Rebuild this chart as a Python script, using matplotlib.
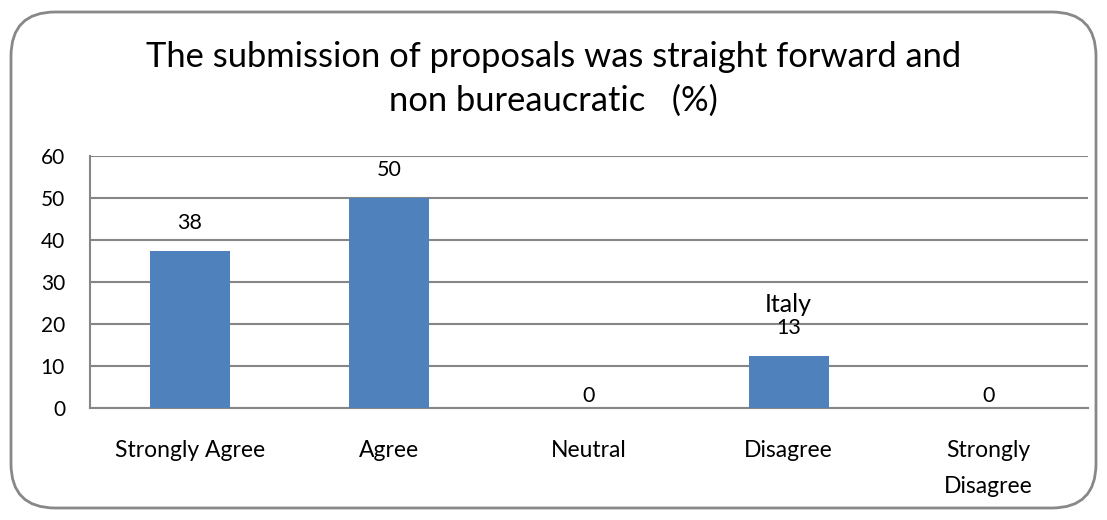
import matplotlib
matplotlib.use("Agg")
import matplotlib.pyplot as plt
from matplotlib.patches import FancyBboxPatch

categories = ["Strongly Agree", "Agree", "Neutral", "Disagree", "Strongly\nDisagree"]
values = [37.5, 50, 0, 12.5, 0]
value_labels = ["38", "50", "0", "13", "0"]
series_name = "Italy"
series_label_on = "Disagree"
yticks = [0, 10, 20, 30, 40, 50, 60]
title = "The submission of proposals was straight forward and\nnon bureaucratic   (%)"

BAR_COLOR = "#4F81BD"
GRID_COLOR = "#868686"
FONT = ["Lato", "DejaVu Sans"]

fig = plt.figure(figsize=(11.07, 5.2), dpi=100)
ax = fig.add_axes([90 / 1107, 1 - 408.3 / 520, 998 / 1107, 252.3 / 520])

# rounded chart border
border = FancyBboxPatch((11 / 1107, 12 / 520), 1085 / 1107, 496 / 520,
                        boxstyle="round,pad=0,rounding_size=0.04",
                        transform=fig.transFigure, facecolor="none",
                        edgecolor="#888888", lw=2, mutation_aspect=1107 / 520)
fig.patches.append(border)

x = list(range(len(categories)))
ax.bar(x, values, width=0.4, color=BAR_COLOR, zorder=3)
ax.set_xlim(-0.5, len(categories) - 0.5)
ax.set_ylim(0, 60)
ax.set_yticks(yticks)
ax.set_yticklabels([str(t) for t in yticks], fontsize=15, family=FONT)
ax.set_xticks(x)
ax.set_xticklabels(categories, fontsize=16.5, family=FONT, linespacing=1.85)
ax.tick_params(axis="both", length=0, colors="black")
ax.tick_params(axis="x", pad=23)
ax.tick_params(axis="y", pad=18)
ax.yaxis.grid(True, color=GRID_COLOR, lw=1.5, zorder=0)
ax.set_axisbelow(True)
for side in ["top", "right"]:
    ax.spines[side].set_visible(False)
for side in ["left", "bottom"]:
    ax.spines[side].set_color(GRID_COLOR)
    ax.spines[side].set_linewidth(1.5)

for xi, v, lab, cat in zip(x, values, value_labels, categories):
    off = 13 if v > 0 else 2
    ax.annotate(lab, (xi, v), xytext=(0, off), textcoords="offset points",
                ha="center", va="bottom", fontsize=15.5, family=FONT)
    if cat == series_label_on:
        ax.annotate(series_name, (xi, v), xytext=(0, 28.5), textcoords="offset points",
                    ha="center", va="bottom", fontsize=18, family=FONT)

fig.text(0.5, 1 - 79 / 520, title, ha="center", va="center", fontsize=24.8,
         family=FONT, linespacing=1.45)

fig.savefig("out.png", dpi=100)
